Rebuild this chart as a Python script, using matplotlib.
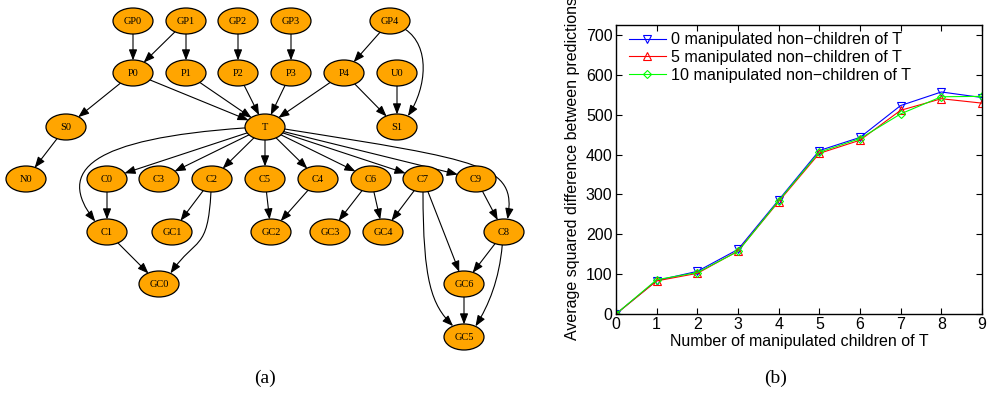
import numpy as np
import matplotlib.pyplot as plt
from matplotlib.patches import Ellipse, FancyArrowPatch
from matplotlib.path import Path

plt.rcParams['font.family'] = ['Liberation Sans', 'DejaVu Sans']

# ---- (a) network: node names and layout (pixel grid of the drawing)
node_names = ['GP0', 'GP1', 'GP2', 'GP3', 'GP4',
              'P0', 'P1', 'P2', 'P3', 'P4', 'U0',
              'S0', 'T', 'S1',
              'N0', 'C0', 'C3', 'C2', 'C5', 'C4', 'C6', 'C7', 'C9',
              'C1', 'GC1', 'GC2', 'GC3', 'GC4', 'C8',
              'GC0', 'GC6',
              'GC5']
node_x = [133, 186, 238, 291, 390,
          133, 186, 238, 291, 344, 397,
          66, 265, 397,
          26, 107, 159, 212, 265, 318, 371, 423, 476,
          107, 172, 271, 330, 383, 504,
          159, 464,
          464]
node_y = [21] * 5 + [73] * 6 + [127] * 3 + [179] * 9 + [232] * 6 + [284] * 2 + [337]

edges = [('GP0', 'P0'), ('GP1', 'P0'), ('GP1', 'P1'), ('GP2', 'P2'), ('GP3', 'P3'),
         ('GP4', 'P4'), ('U0', 'S1'), ('P4', 'S1'), ('P0', 'S0'), ('S0', 'N0'),
         ('P0', 'T'), ('P1', 'T'), ('P2', 'T'), ('P3', 'T'), ('P4', 'T'),
         ('T', 'C0'), ('T', 'C3'), ('T', 'C2'), ('T', 'C5'), ('T', 'C4'),
         ('T', 'C6'), ('T', 'C7'), ('T', 'C9'), ('C0', 'C1'), ('C2', 'GC1'),
         ('C1', 'GC0'), ('C5', 'GC2'), ('C4', 'GC2'), ('C6', 'GC3'), ('C6', 'GC4'),
         ('C7', 'GC4'), ('C7', 'GC6'), ('C9', 'C8'), ('C8', 'GC6'), ('GC6', 'GC5')]

# curved edges: src, dst, attach angle / control angle / control length at each end
curved = [('T', 'C1', 176, 176, 155, 234, 232, 65),
          ('T', 'C8', 9, 9, 200, 280, 280, 55),
          ('GP4', 'S1', 40, 34, 30, 303, 303, 35),
          ('C2', 'GC0', 93, 93, 60, 305, 305, 45),
          ('C7', 'GC5', 90, 90, 90, 237, 225, 30),
          ('C8', 'GC5', 95, 95, 35, 305, 302, 25)]

# ---- (b) line chart
n_children = np.arange(10)
nonchild_0 = [0, 84, 107, 162, 286, 410, 443, 523, 557, 543]
nonchild_5 = [0, 83, 102, 158, 282, 403, 436, 511, 540, 529]
nonchild_10 = [0, 86, 104, 157, 284, 406, 440, 502, 545, 546]
series_labels = ['0 manipulated non\u2212children of T',
                 '5 manipulated non\u2212children of T',
                 '10 manipulated non\u2212children of T']

fig = plt.figure(figsize=(9.88, 3.93), dpi=100)

# graph panel, data units = pixels
ag = fig.add_axes([0, 0, 540 / 988, 1])
ag.set_xlim(0, 540)
ag.set_ylim(393, 0)
ag.axis('off')

ew, eh = 40, 26
pos = {}
patches = {}
for name, x, y in zip(node_names, node_x, node_y):
    pos[name] = (x, y)
    e = Ellipse((x, y), ew, eh, facecolor='#FFA500', edgecolor='black', lw=0.9, zorder=3)
    ag.add_patch(e)
    patches[name] = e
    ag.text(x, y + 0.5, name, ha='center', va='center', fontsize=7.5,
            family='Liberation Serif', zorder=4)

arrow_style = '-|>,head_length=0.65,head_width=0.25'
for a, b in edges:
    arr = FancyArrowPatch(pos[a], pos[b], patchA=patches[a], patchB=patches[b],
                          shrinkA=0, shrinkB=0, arrowstyle=arrow_style,
                          mutation_scale=10, color='black', lw=0.8, zorder=2)
    ag.add_patch(arr)


def rim(name, ang):
    cx, cy = pos[name]
    t = np.radians(ang)
    return np.array([cx + ew / 2 * np.cos(t), cy + eh / 2 * np.sin(t)])


for a, b, aa, da, la, ab, db, lb in curved:
    p0 = rim(a, aa)
    p3 = rim(b, ab)
    p1 = p0 + la * np.array([np.cos(np.radians(da)), np.sin(np.radians(da))])
    p2 = p3 + lb * np.array([np.cos(np.radians(db)), np.sin(np.radians(db))])
    path = Path([p0, p1, p2, p3], [Path.MOVETO, Path.CURVE4, Path.CURVE4, Path.CURVE4])
    arr = FancyArrowPatch(path=path, arrowstyle=arrow_style, mutation_scale=10,
                          color='black', lw=0.8, zorder=2)
    ag.add_patch(arr)

fig.text(265 / 988, 1 - 378 / 393, '(a)', ha='center', va='center',
         fontsize=14, family='Liberation Serif')
fig.text(776 / 988, 1 - 378 / 393, '(b)', ha='center', va='center',
         fontsize=14, family='Liberation Serif')

# chart panel
ax = fig.add_axes([616 / 988, 79 / 393, 366 / 988, 289 / 393])
ax.plot(n_children, nonchild_0, color='blue', lw=0.8, marker='v', ms=6,
        mfc='none', mew=0.8, label=series_labels[0])
ax.plot(n_children, nonchild_5, color='red', lw=0.8, marker='^', ms=6,
        mfc='none', mew=0.8, label=series_labels[1])
ax.plot(n_children, nonchild_10, color='#00ff00', lw=0.8, marker='D', ms=4.5,
        mfc='none', mew=0.8, label=series_labels[2])
ax.set_xlim(0, 9)
ax.set_ylim(0, 725)
ax.set_xticks(range(10))
ax.set_yticks(range(0, 701, 100))
ax.tick_params(direction='in', top=True, right=True, length=4, width=0.8,
               labelsize=11.5, pad=2.5)
for s in ax.spines.values():
    s.set_linewidth(1.0)
ax.set_xlabel('Number of manipulated children of T', fontsize=11.5, labelpad=1)
fig.text(572 / 988, 1 - 340 / 393, 'Average squared difference between predictions',
         rotation=90, ha='center', va='bottom', fontsize=11.5)
ax.legend(loc='upper left', bbox_to_anchor=(0.035, 0.975), frameon=False,
          fontsize=11.6, borderaxespad=0, borderpad=0, labelspacing=0.18,
          handlelength=2.3, handletextpad=0.3)

fig.savefig('out.png', dpi=100)
